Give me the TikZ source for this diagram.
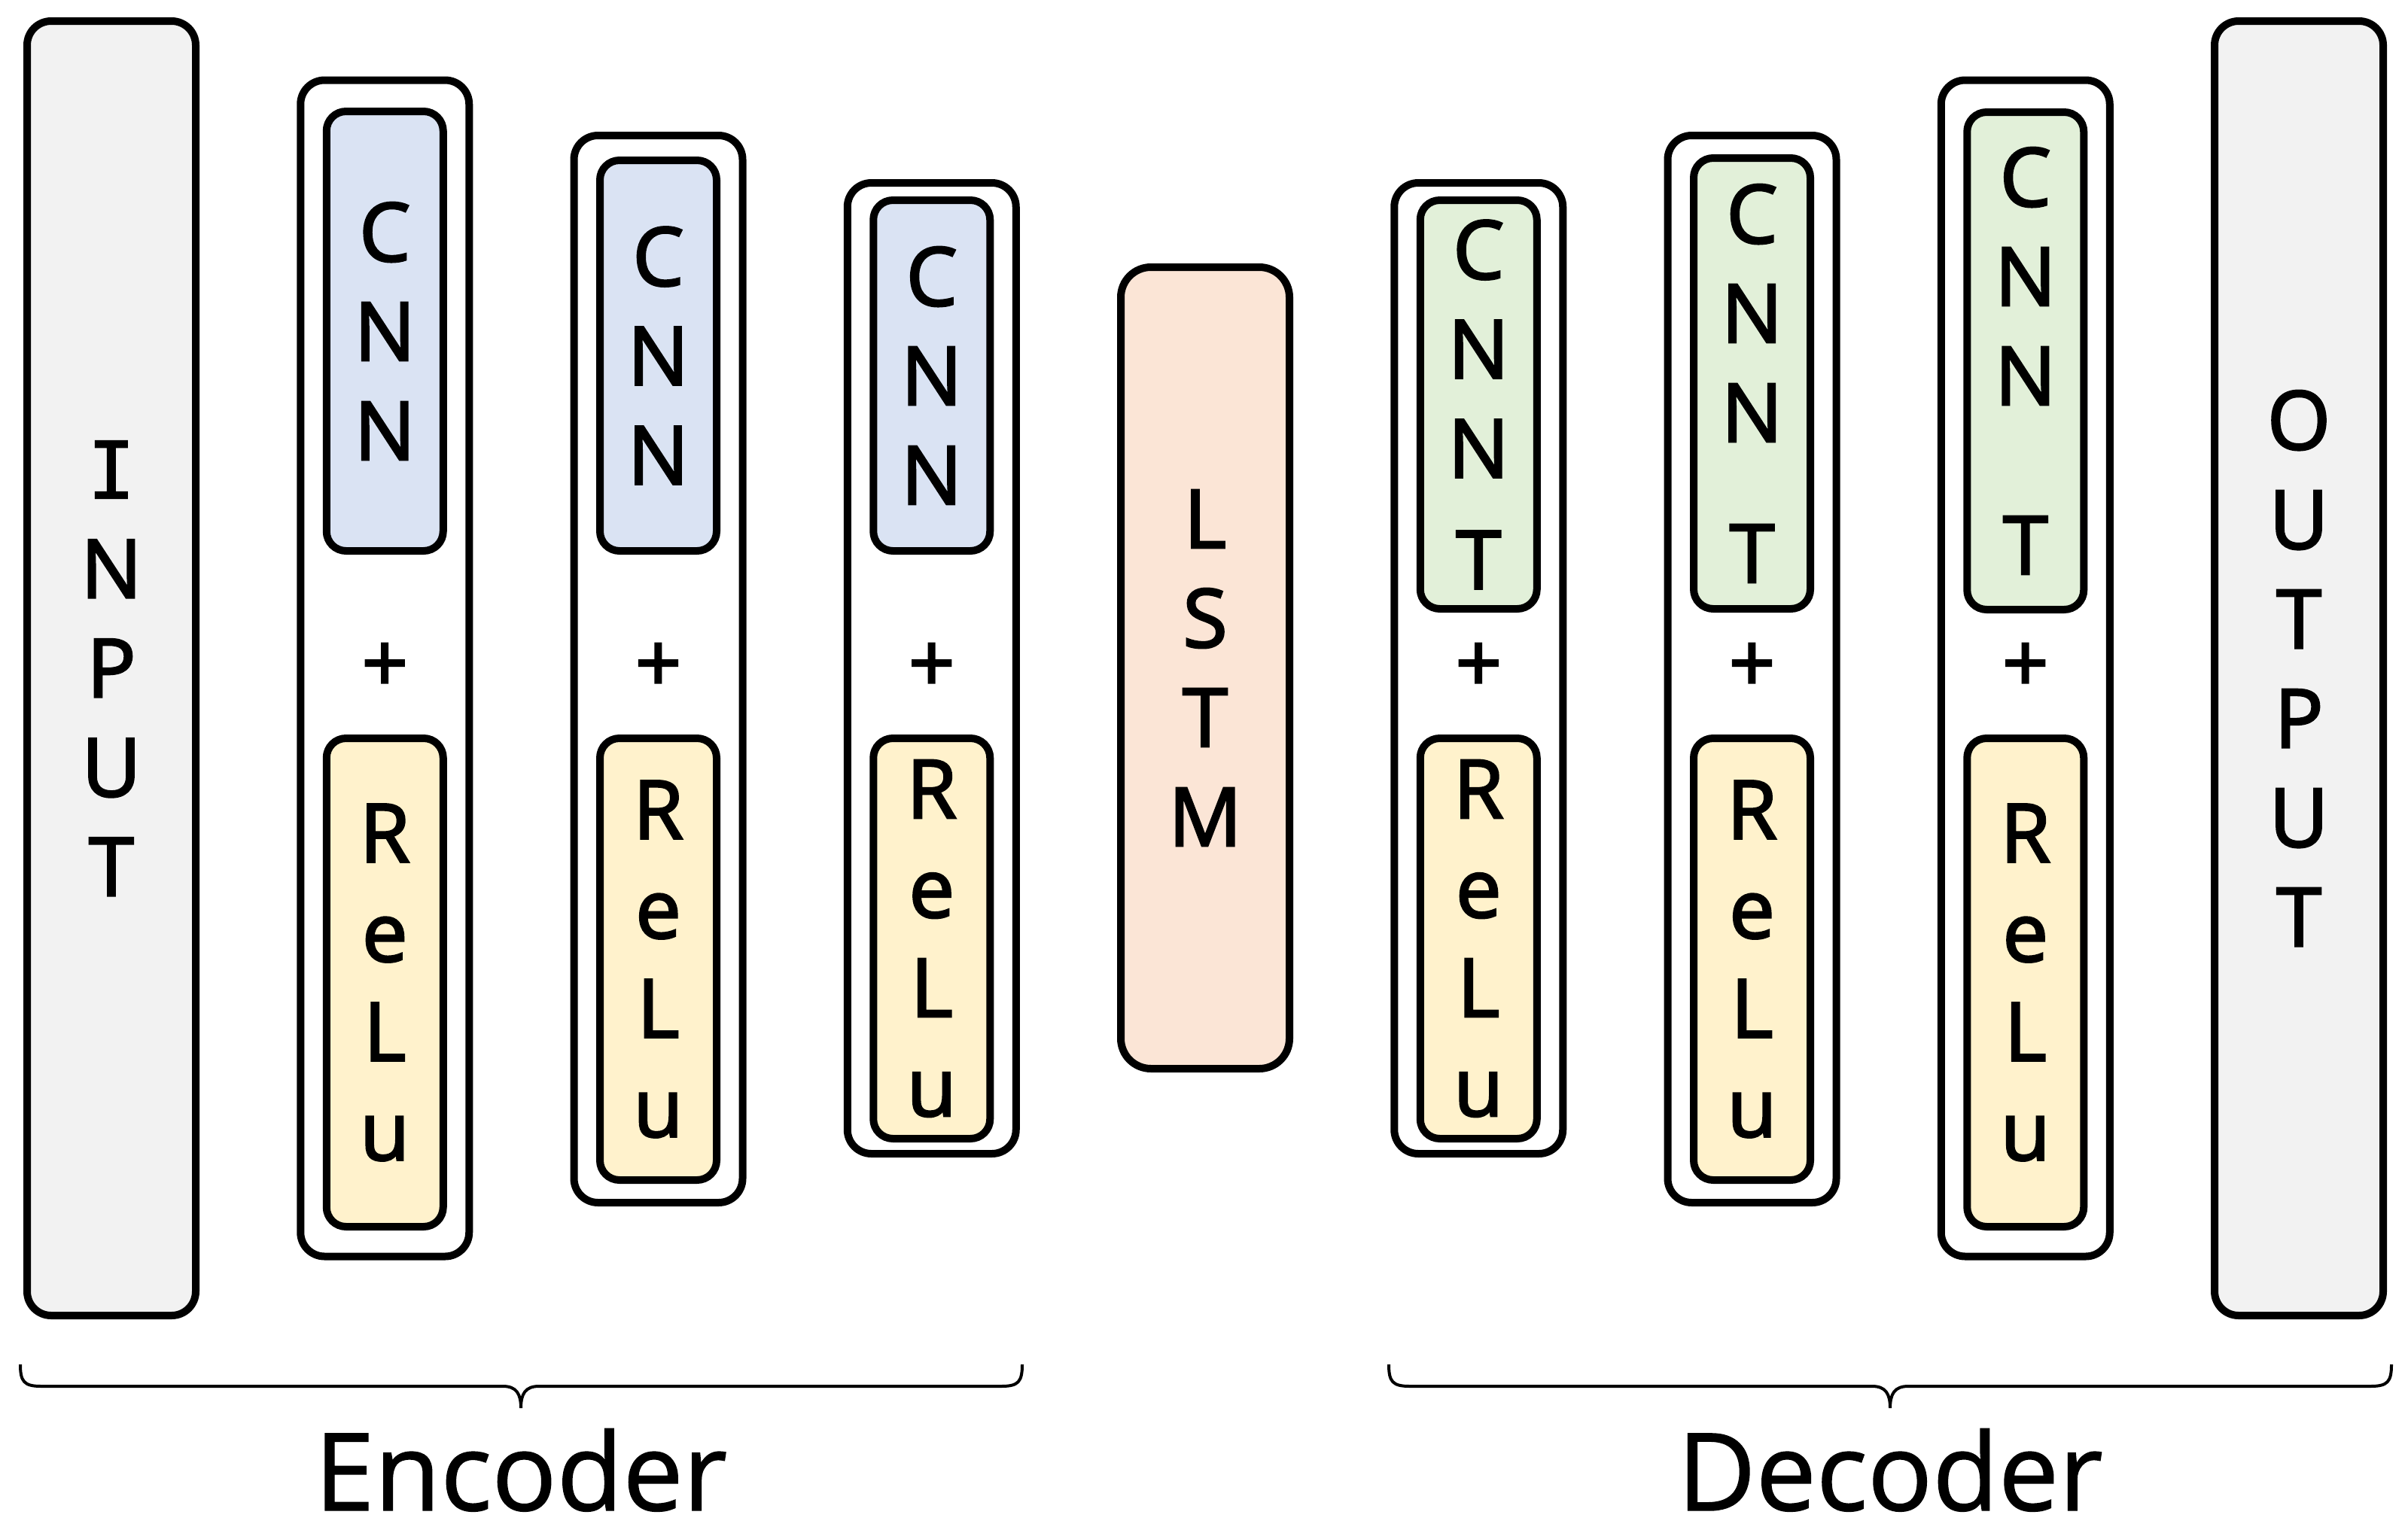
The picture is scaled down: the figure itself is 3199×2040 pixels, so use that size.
\documentclass[tikz,border=0pt]{standalone}
\usepackage{fontspec}
\setmainfont{Open Sans}[FakeBold=2.5]
\newfontfamily\titlefont{Open Sans}[FakeBold=1]
\newfontfamily\serifI{DejaVu Sans Mono}[FakeBold=1.5]
\definecolor{cgray}{HTML}{F2F2F2}
\definecolor{cblue}{HTML}{DAE3F3}
\definecolor{cyel}{HTML}{FFF2CC}
\definecolor{corange}{HTML}{FBE5D6}
\definecolor{cgreen}{HTML}{E2F0D9}
\begin{document}
\begin{tikzpicture}[x=1pt,y=-1pt,
  lbl/.style={font=\fontsize{108}{132}\selectfont},
  bigbox/.style={draw=black, line width=10pt, rounded corners=32pt, inner sep=0pt,
    minimum width=224pt, align=center, lbl},
  blockbox/.style={bigbox, fill=white},
  inbox/.style={draw=black, line width=10pt, rounded corners=26pt, inner sep=0pt,
    minimum width=155pt, align=center, lbl},
  cnnbox/.style={inbox, fill=cblue},
  cnntbox/.style={inbox, fill=cgreen},
  relubox/.style={inbox, fill=cyel},
  plus/.style={lbl, inner sep=0pt},
  bracepath/.style={draw=black, line width=4pt},
  title/.style={font=\titlefont\fontsize{143}{160}\selectfont, inner sep=0pt, anchor=base}]
\useasboundingbox (0,0) rectangle (3199,2040);

% Input / Output
\node[bigbox, fill=cgray, minimum height=1720pt] (input) at (148,888)
  {{\serifI\fontsize{105}{132}\selectfont I}\\N\\P\\U\\T};
\node[bigbox, fill=cgray, minimum height=1720pt] (output) at (3054,888)
  {O\\U\\T\\P\\U\\T};

% Encoder blocks
\node[blockbox, minimum height=1563pt] (enc1) at (511.25,888) {};
\node[cnnbox, minimum height=584pt] (enc1c) at (511.25,440) {C\\N\\N};
\node[plus] (enc1p) at (511.25,887) {+};
\node[relubox, minimum height=649pt] (enc1r) at (511.25,1305.5) {R\\e\\L\\u};

\node[blockbox, minimum height=1418pt] (enc2) at (874.5,889) {};
\node[cnnbox, minimum height=519pt] (enc2c) at (874.5,472.5) {C\\N\\N};
\node[plus] (enc2p) at (874.5,887) {+};
\node[relubox, minimum height=587pt] (enc2r) at (874.5,1274.5) {R\\e\\L\\u};

\node[blockbox, minimum height=1290pt] (enc3) at (1237.75,888) {};
\node[cnnbox, minimum height=466pt] (enc3c) at (1237.75,499) {C\\N\\N};
\node[plus] (enc3p) at (1237.75,887) {+};
\node[relubox, minimum height=532pt] (enc3r) at (1237.75,1247) {R\\e\\L\\u};

% LSTM
\node[bigbox, fill=corange, rounded corners=40pt, minimum height=1065pt] (lstm) at (1601,887.5)
  {L\\S\\T\\M};

% Decoder blocks
\node[blockbox, minimum height=1290pt] (dec1) at (1964.25,888) {};
\node[cnntbox, minimum height=543pt] (dec1c) at (1964.25,537.5) {C\\N\\N\\[16pt]T};
\node[plus] (dec1p) at (1964.25,887) {+};
\node[relubox, minimum height=532pt] (dec1r) at (1964.25,1247) {R\\e\\L\\u};

\node[blockbox, minimum height=1418pt] (dec2) at (2327.5,889) {};
\node[cnntbox, minimum height=599pt] (dec2c) at (2327.5,509.5) {C\\N\\N\\[55pt]T};
\node[plus] (dec2p) at (2327.5,887) {+};
\node[relubox, minimum height=587pt] (dec2r) at (2327.5,1274.5) {R\\e\\L\\u};

\node[blockbox, minimum height=1563pt] (dec3) at (2690.75,888) {};
\node[cnntbox, minimum height=661pt] (dec3c) at (2690.75,479.5) {C\\N\\N\\[93pt]T};
\node[plus] (dec3p) at (2690.75,887) {+};
\node[relubox, minimum height=649pt] (dec3r) at (2690.75,1305.5) {R\\e\\L\\u};

% Braces
\coordinate (encL) at (27,1813);
\coordinate (encR) at (1358,1813);
\coordinate (encTip) at (692,1871);
\path[bracepath] (encL) .. controls (27,1836) and (32,1842) .. (55,1842) -- (668,1842)
  .. controls (686,1842) and (692,1852) .. (encTip)
  .. controls (692,1852) and (698,1842) .. (716,1842) -- (1330,1842)
  .. controls (1353,1842) and (1358,1836) .. (encR);
\node[title] (enclabel) at (692,2007) {Encoder};

\coordinate (decL) at (1845,1813);
\coordinate (decR) at (3177,1813);
\coordinate (decTip) at (2511,1871);
\path[bracepath] (decL) .. controls (1845,1836) and (1850,1842) .. (1873,1842) -- (2487,1842)
  .. controls (2505,1842) and (2511,1852) .. (decTip)
  .. controls (2511,1852) and (2517,1842) .. (2535,1842) -- (3149,1842)
  .. controls (3172,1842) and (3177,1836) .. (decR);
\node[title] (declabel) at (2511,2007) {Decoder};
\end{tikzpicture}
\end{document}
